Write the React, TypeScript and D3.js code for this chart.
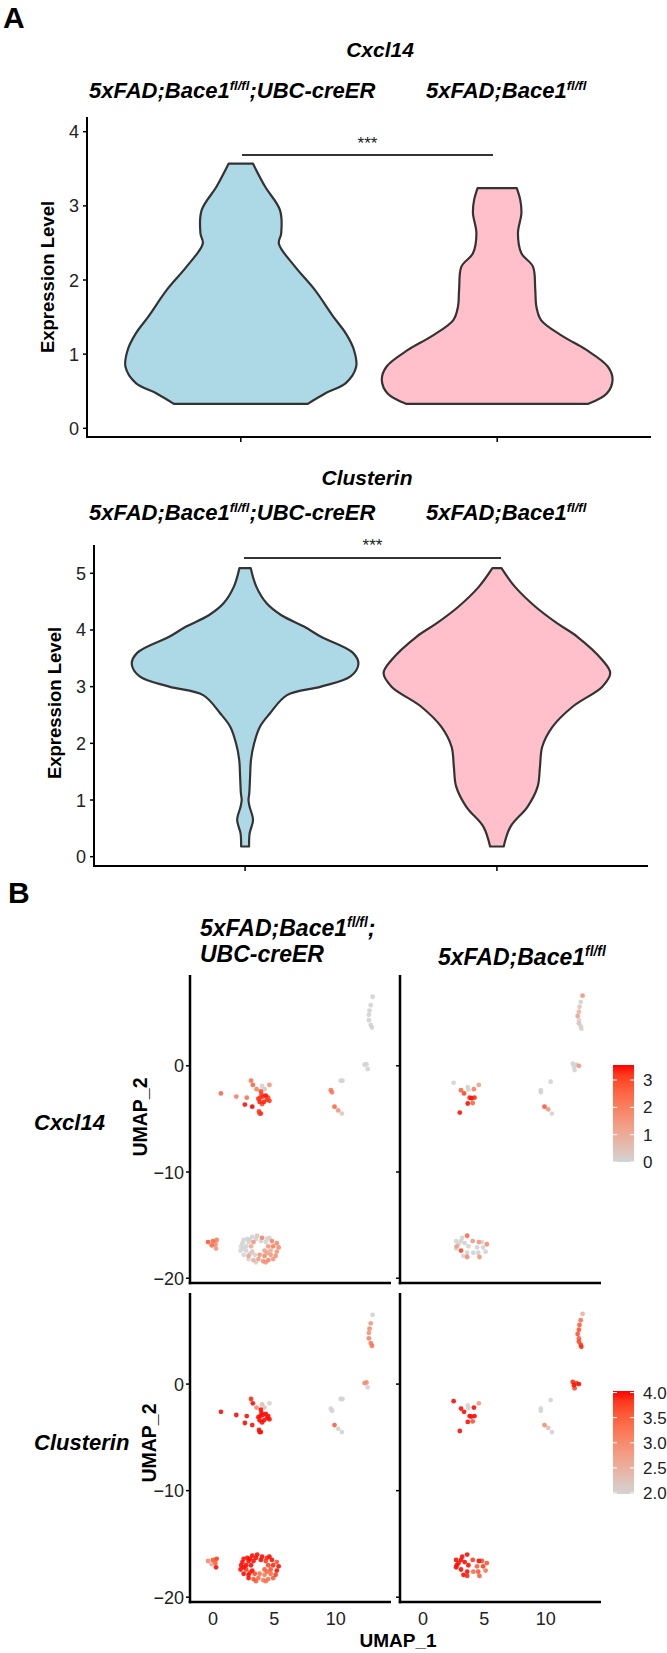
import React from 'react';
import * as d3 from 'd3';

// ---------- DATA ----------
const groupLabels = ['cre', 'ctrl'];

// violin outlines: [expression value, relative half-width]
const cxclCre: [number, number][] = [
  [0.33, 0.58], [0.47, 0.73], [0.61, 0.91], [0.83, 1.0], [1.06, 0.98], [1.28, 0.91],
  [1.51, 0.8], [1.87, 0.64], [2.18, 0.47], [2.49, 0.33], [2.63, 0.35], [2.94, 0.34],
  [3.26, 0.21], [3.57, 0.105],
];
const cxclCtrl: [number, number][] = [
  [0.33, 0.79], [0.47, 0.95], [0.65, 1.0], [0.83, 0.96], [1.06, 0.77], [1.24, 0.57],
  [1.46, 0.38], [1.64, 0.34], [1.87, 0.33], [2.18, 0.31], [2.36, 0.21], [2.63, 0.18],
  [2.9, 0.21], [3.08, 0.2], [3.24, 0.17],
];
const clusCre: [number, number][] = [
  [0.18, 0.035], [0.41, 0.04], [0.65, 0.07], [0.88, 0.04], [1.0, 0.03], [1.12, 0.037],
  [1.41, 0.044], [1.71, 0.052], [2.0, 0.08], [2.29, 0.13], [2.53, 0.22], [2.85, 0.37],
  [3.0, 0.67], [3.18, 0.93], [3.4, 1.0], [3.6, 0.95], [3.88, 0.67], [4.06, 0.52],
  [4.26, 0.32], [4.47, 0.19], [4.76, 0.1], [5.09, 0.05],
];
const clusCtrl: [number, number][] = [
  [0.18, 0.06], [0.53, 0.12], [0.88, 0.27], [1.24, 0.36], [1.59, 0.38], [1.94, 0.4],
  [2.29, 0.49], [2.65, 0.67], [3.0, 0.93], [3.24, 1.0], [3.47, 0.93], [3.88, 0.71],
  [4.12, 0.53], [4.41, 0.34], [4.76, 0.16], [5.09, 0.04],
];
const cxclTicks = [0, 1, 2, 3, 4];
const clusTicks = [0, 1, 2, 3, 4, 5];

// UMAP cells: [UMAP_1, UMAP_2, Cxcl14, Clusterin]
const creCells: number[][] = [
  [13.0, 6.5, 0, 2.0], [12.85, 5.7, 0, 2.8], [12.75, 5.2, 0, 3.0], [12.7, 4.8, 0, 2.9],
  [12.7, 4.3, 0, 3.1], [12.85, 3.85, 0, 3.2], [12.95, 3.6, 0, 3.3],
  [12.35, 0.1, 0, 3.0], [12.5, 0.15, 0, 2.9], [12.6, -0.3, 0, 2.0],
  [10.4, -1.4, 0, 2.0], [10.55, -1.4, 0, 2.0], [9.6, -2.3, 2.2, 2.0], [9.7, -2.5, 2.0, 2.0],
  [9.9, -3.85, 2.5, 3.5], [10.2, -4.2, 1.5, 2.0], [10.5, -4.5, 0.2, 2.0],
  [3.1, -1.4, 2.3, 3.9], [3.25, -1.8, 2.5, 4.0], [3.55, -2.2, 2.0, 3.0], [4.0, -1.9, 0, 2.3],
  [4.2, -2.2, 0.5, 2.2], [4.6, -1.8, 1.5, 2.0], [3.9, -2.4, 3.0, 4.0], [4.05, -2.9, 3.3, 4.0],
  [4.4, -3.2, 3.2, 4.0], [3.8, -3.4, 3.4, 4.0], [4.5, -3.0, 3.0, 4.0], [3.7, -3.1, 3.3, 4.0],
  [3.95, -2.7, 3.1, 4.0], [4.3, -2.8, 3.5, 4.0], [4.15, -3.4, 3.4, 4.0], [3.85, -3.0, 3.0, 4.0],
  [4.6, -3.3, 3.2, 4.0], [4.0, -3.6, 3.0, 4.0],
  [0.65, -2.6, 2.5, 4.0], [1.9, -2.9, 2.0, 4.0], [2.75, -3.0, 2.2, 4.0], [2.6, -3.65, 3.5, 4.0],
  [3.2, -3.85, 3.6, 4.0], [3.75, -4.3, 3.2, 4.0], [3.9, -4.5, 3.3, 4.0], [3.8, -4.5, 3.0, 4.0],
  [-0.4, -16.6, 2.8, 3.0], [0.0, -16.5, 2.4, 3.6], [0.3, -16.4, 2.0, 3.8], [-0.1, -16.9, 2.5, 2.6],
  [0.25, -17.2, 1.5, 4.0], [0.2, -16.8, 1.8, 3.5],
  [2.8, -16.3, 0, 4.0], [3.2, -16.1, 0, 4.0], [3.6, -16.0, 0.3, 4.0], [4.0, -16.2, 2.0, 4.0],
  [4.4, -16.3, 0, 3.9], [2.4, -16.7, 0, 4.0], [2.9, -16.6, 0, 4.0], [3.3, -16.6, 1.5, 4.0],
  [4.3, -16.6, 0, 3.8], [4.8, -16.5, 2.0, 4.0], [5.2, -16.7, 1.8, 3.6], [2.3, -17.0, 0, 4.0],
  [2.7, -17.0, 0, 4.0], [3.1, -17.0, 1.0, 4.0], [4.5, -17.0, 1.5, 3.7], [4.9, -17.0, 2.0, 3.9],
  [5.35, -17.1, 1.8, 4.0], [2.25, -17.4, 0, 4.0], [2.7, -17.4, 0, 3.8], [3.2, -17.5, 0.5, 4.0],
  [4.2, -17.4, 1.2, 3.5], [4.7, -17.4, 1.0, 3.6], [5.2, -17.5, 1.5, 4.0], [2.5, -17.8, 0, 4.0],
  [2.9, -17.9, 1.2, 4.0], [3.4, -17.8, 0, 3.7], [3.8, -17.8, 1.6, 3.3], [4.2, -17.9, 1.8, 3.2],
  [4.7, -17.8, 1.5, 3.4], [5.1, -17.9, 1.6, 3.8], [2.9, -18.2, 0, 4.0], [3.3, -18.3, 0.8, 3.6],
  [3.7, -18.2, 1.4, 3.4], [4.1, -18.4, 1.7, 3.2], [4.5, -18.3, 1.9, 3.3], [4.9, -18.2, 1.5, 3.5],
  [3.0, -16.4, 0, 4.0], [2.5, -16.4, 0, 4.0], [3.9, -16.5, 0, 4.0], [4.6, -16.2, 0, 4.0],
  [3.5, -16.3, 0, 4.0], [2.5, -17.2, 0, 4.0], [3.0, -17.7, 0, 3.9], [4.4, -17.6, 1.2, 3.4],
  [3.5, -18.5, 0, 3.5], [4.3, -18.5, 1.4, 3.3],
];
const ctrlCells: number[][] = [
  [13.0, 6.6, 1.5, 2.5], [12.85, 6.0, 0, 3.3], [12.75, 5.55, 0.3, 3.5], [12.7, 5.1, 0.8, 3.6],
  [12.6, 4.7, 1.2, 3.6], [12.7, 4.3, 0, 3.5], [12.7, 4.0, 0.5, 3.7], [12.85, 3.7, 0, 3.8],
  [12.9, 3.5, 0, 3.9],
  [12.3, -0.1, 0, 4.0], [12.5, 0.1, 0, 3.8], [12.7, 0.0, 1.5, 4.0], [12.35, -0.4, 0, 3.7],
  [12.2, 0.2, 0, 3.9],
  [10.4, -1.5, 0, 2.0], [9.6, -2.3, 0, 2.0], [9.6, -2.5, 0, 2.0],
  [9.9, -3.85, 2.8, 3.0], [10.2, -4.1, 1.5, 2.3], [10.5, -4.5, 0, 2.0],
  [2.5, -1.6, 0, 4.0], [3.1, -2.3, 2.5, 4.0], [3.65, -2.0, 0, 2.0], [3.7, -2.25, 0, 2.0],
  [4.15, -2.2, 2.0, 4.0], [4.55, -1.8, 1.2, 2.8], [3.35, -2.6, 3.0, 4.0], [3.8, -3.0, 3.4, 4.0],
  [3.95, -3.05, 3.5, 4.0], [4.2, -3.0, 3.3, 4.0], [4.05, -3.5, 2.5, 3.6], [3.65, -3.55, 3.5, 4.0],
  [3.0, -4.4, 3.5, 4.0],
  [3.6, -16.0, 2.5, 4.0], [3.1, -17.4, 3.0, 4.0], [4.05, -16.5, 1.5, 3.8], [4.55, -16.6, 1.5, 4.0],
  [5.2, -16.8, 1.8, 3.6], [4.6, -18.0, 1.5, 3.5], [3.6, -18.0, 1.8, 3.9], [2.75, -17.0, 1.3, 4.0],
  [2.7, -16.5, 0, 4.0], [3.2, -16.2, 0, 4.0], [3.4, -16.7, 0, 4.0], [2.7, -17.2, 0, 4.0],
  [3.7, -17.0, 0, 4.0], [3.6, -17.6, 0, 4.0], [4.1, -17.6, 0, 3.4], [4.5, -17.6, 0, 3.6],
  [4.9, -17.1, 0, 3.8], [5.1, -17.5, 0, 3.3], [3.1, -16.5, 0, 4.0], [4.4, -17.1, 0, 3.5],
  [3.3, -17.9, 0, 4.0], [2.9, -16.8, 0, 4.0], [4.8, -16.6, 0, 3.7],
];
const umapXTicks = [0, 5, 10];
const umapYTicks = [0, -10, -20];
const cxclBarTicks = [0, 1, 2, 3];
const clusBarTicks = [2.0, 2.5, 3.0, 3.5, 4.0];

const FONT = "'Liberation Sans', Arial, sans-serif";

function GenoLabel({ x, y, size, withCre, semi }: any) {
  const s = size * 0.6;
  return (
    <text x={x} y={y} fontFamily={FONT} fontSize={size} fontWeight="bold" fontStyle="italic" fill="#000">
      <tspan>5xFAD;Bace1</tspan>
      <tspan fontSize={s} dy={-size * 0.38}>fl/fl</tspan>
      <tspan dy={size * 0.38}>{withCre ? ';UBC-creER' : semi ? ';' : ''}</tspan>
    </text>
  );
}

function ViolinPanel({ top, axisX, axisTop, axisBottom, axisRight, yTop, yZero, domainMax, ticks, data, title, titleX, sigY, sigX0, sigX1, starY, exprY }: any) {
  const y = d3.scaleLinear().domain([0, domainMax]).range([yZero, yTop]);
  const x = d3.scalePoint<string>().domain(groupLabels).range([axisX, axisRight]).padding(0.6);
  const maxHW = x.step() * 0.45;
  const fills = ['#ADD8E6', '#FFC0CB'];
  const mk = (cx: number) =>
    d3.area<[number, number]>()
      .y((d) => y(d[0]))
      .x0((d) => cx - d[1] * maxHW)
      .x1((d) => cx + d[1] * maxHW)
      .curve(d3.curveCatmullRom.alpha(0.5));
  return (
    <g>
      <text x={titleX} y={top} textAnchor="middle" fontFamily={FONT} fontSize={21} fontWeight="bold" fontStyle="italic">{title}</text>
      {data.map((d: [number, number][], i: number) => (
        <path key={i} d={mk(x(groupLabels[i]) as number)(d) as string} fill={fills[i]} stroke="#333" strokeWidth={2.2} strokeLinejoin="round" />
      ))}
      <line x1={axisX} x2={axisX} y1={axisTop} y2={axisBottom} stroke="#000" strokeWidth={2} />
      <line x1={axisX - 1} x2={axisRight} y1={axisBottom} y2={axisBottom} stroke="#000" strokeWidth={2} />
      {ticks.map((t: number) => (
        <g key={t}>
          <line x1={axisX - 4} x2={axisX} y1={y(t)} y2={y(t)} stroke="#000" strokeWidth={1.5} />
          <text x={axisX - 8} y={y(t) + 6.5} textAnchor="end" fontFamily={FONT} fontSize={18} fill="#222">{t}</text>
        </g>
      ))}
      {groupLabels.map((g) => (
        <line key={g} x1={x(g)} x2={x(g)} y1={axisBottom} y2={axisBottom + 5} stroke="#000" strokeWidth={1.5} />
      ))}
      <line x1={sigX0} x2={sigX1} y1={sigY} y2={sigY} stroke="#333" strokeWidth={2} />
      <text x={(sigX0 + sigX1) / 2} y={starY} textAnchor="middle" fontFamily={FONT} fontSize={17} fill="#222">***</text>
      <text transform={`translate(${axisX - 33},${exprY}) rotate(-90)`} textAnchor="middle" fontFamily={FONT} fontSize={18.5} fontWeight="bold">Expression Level</text>
    </g>
  );
}

function UmapPanel({ cells, idx, x0, x1, y0, y1, color, showYLabels, showXLabels }: any) {
  const x = d3.scaleLinear().domain([-1.87, 14.5]).range([x0, x1]);
  const y = d3.scaleLinear().domain([-20.45, 8.55]).range([y1, y0]);
  const sorted = [...cells].sort((a, b) => a[idx] - b[idx]);
  return (
    <g>
      {sorted.map((c, i) => (
        <circle key={i} cx={x(c[0])} cy={y(c[1])} r={2.4} fill={color(c[idx])} fillOpacity={0.9} />
      ))}
      <line x1={x0} x2={x0} y1={y0} y2={y1 + 1.25} stroke="#000" strokeWidth={2.5} />
      <line x1={x0 - 1.25} x2={x1} y1={y1} y2={y1} stroke="#000" strokeWidth={2.5} />
      {umapYTicks.map((t) => (
        <g key={t}>
          <line x1={x0 - 4} x2={x0} y1={y(t)} y2={y(t)} stroke="#000" strokeWidth={1.5} />
          {showYLabels && (
            <text x={x0 - 6} y={y(t) + 6.5} textAnchor="end" fontFamily={FONT} fontSize={18} fill="#222">{t < 0 ? '\u2212' + Math.abs(t) : t}</text>
          )}
        </g>
      ))}
      {showXLabels && umapXTicks.map((t) => (
        <text key={t} x={x(t)} y={y1 + 23} textAnchor="middle" fontFamily={FONT} fontSize={18} fill="#222">{t}</text>
      ))}
    </g>
  );
}

function ColorBar({ id, x0, y0, y1, lo, hi, ticks, color, fmt }: any) {
  const w = 21;
  const s = d3.scaleLinear().domain([lo, hi]).range([y1, y0]);
  const stops = d3.range(11).map((i) => lo + (hi - lo) * i / 10);
  return (
    <g>
      <defs>
        <linearGradient id={id} x1="0" y1="1" x2="0" y2="0">
          {stops.map((v, i) => (
            <stop key={i} offset={`${i * 10}%`} stopColor={color(v)} />
          ))}
        </linearGradient>
      </defs>
      <rect x={x0} y={y0} width={w} height={y1 - y0} fill={`url(#${id})`} />
      {ticks.map((t: number) => (
        <g key={t}>
          <line x1={x0} x2={x0 + 4} y1={s(t)} y2={s(t)} stroke="#fff" strokeWidth={1} />
          <line x1={x0 + w - 4} x2={x0 + w} y1={s(t)} y2={s(t)} stroke="#fff" strokeWidth={1} />
          <text x={x0 + w + 9} y={s(t) + 6} fontFamily={FONT} fontSize={17} fill="#222">{fmt(t)}</text>
        </g>
      ))}
    </g>
  );
}

export default function App() {
  const cxclColor = d3.scaleLinear<string>().domain([0, 3.55]).range(['#D3D3D3', '#FF0000']).interpolate(d3.interpolateLab).clamp(true);
  const clusColor = d3.scaleLinear<string>().domain([2.0, 4.02]).range(['#D3D3D3', '#FF0000']).interpolate(d3.interpolateLab).clamp(true);
  return (
    <svg width={667} height={1653} style={{ position: 'absolute', left: 0, top: 0, background: '#fff' }}>
      <rect width={667} height={1653} fill="#fff" />
      <text x={3} y={28} fontFamily={FONT} fontSize={30} fontWeight="bold">A</text>
      <ViolinPanel top={57} titleX={380} axisX={87} axisTop={117} axisBottom={437} axisRight={651}
        yTop={131.7} yZero={428.3} domainMax={4} ticks={cxclTicks} data={[cxclCre, cxclCtrl]} title="Cxcl14"
        sigY={155} sigX0={242} sigX1={493} starY={149} exprY={277} />
      <GenoLabel x={89} y={98} size={22} withCre />
      <GenoLabel x={426} y={98} size={22} />

      <ViolinPanel top={485} titleX={367} axisX={94} axisTop={545} axisBottom={866} axisRight={648}
        yTop={573.3} yZero={856.7} domainMax={5} ticks={clusTicks} data={[clusCre, clusCtrl]} title="Clusterin"
        sigY={558} sigX0={244} sigX1={501} starY={551} exprY={703} />
      <GenoLabel x={89} y={520} size={22} withCre />
      <GenoLabel x={426} y={520} size={22} />

      <text x={8} y={903} fontFamily={FONT} fontSize={30} fontWeight="bold">B</text>
      <GenoLabel x={200} y={936} size={23} semi />
      <text x={200} y={962} fontFamily={FONT} fontSize={23} fontWeight="bold" fontStyle="italic">UBC-creER</text>
      <GenoLabel x={438} y={965} size={23} />

      <text x={34} y={1130} fontFamily={FONT} fontSize={22} fontWeight="bold" fontStyle="italic">Cxcl14</text>
      <text x={34} y={1450} fontFamily={FONT} fontSize={22} fontWeight="bold" fontStyle="italic">Clusterin</text>
      <text transform="translate(147,1117) rotate(-90)" textAnchor="middle" fontFamily={FONT} fontSize={19.5} fontWeight="bold">UMAP_2</text>
      <text transform="translate(156,1443) rotate(-90)" textAnchor="middle" fontFamily={FONT} fontSize={19.5} fontWeight="bold">UMAP_2</text>

      <UmapPanel cells={creCells} idx={2} x0={190} x1={391} y0={975} y1={1283} color={cxclColor} showYLabels />
      <UmapPanel cells={ctrlCells} idx={2} x0={400} x1={601} y0={975} y1={1283} color={cxclColor} />
      <UmapPanel cells={creCells} idx={3} x0={190} x1={391} y0={1293} y1={1602} color={clusColor} showYLabels showXLabels />
      <UmapPanel cells={ctrlCells} idx={3} x0={400} x1={601} y0={1293} y1={1602} color={clusColor} showXLabels />

      <ColorBar id="cbA" x0={613} y0={1065} y1={1162} lo={0} hi={3.55} ticks={cxclBarTicks} color={cxclColor} fmt={(t: number) => String(t)} />
      <ColorBar id="cbB" x0={613} y0={1391} y1={1494} lo={1.98} hi={4.03} ticks={clusBarTicks} color={clusColor} fmt={(t: number) => t.toFixed(1)} />

      <text x={398} y={1647} textAnchor="middle" fontFamily={FONT} fontSize={19} fontWeight="bold">UMAP_1</text>
    </svg>
  );
}
